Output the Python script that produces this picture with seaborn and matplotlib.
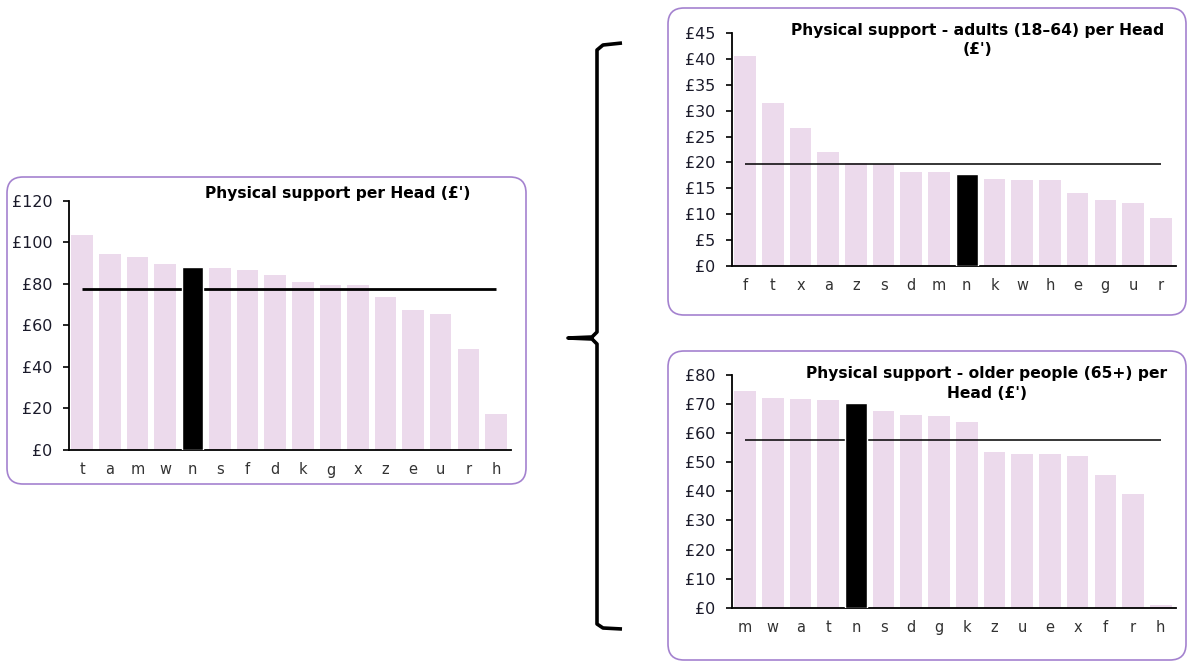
import matplotlib
matplotlib.use("Agg")

import matplotlib.pyplot as plt
import seaborn as sns
from matplotlib.patches import FancyBboxPatch

# -------------------------
# DATA
# -------------------------
all_cats = ["t", "a", "m", "w", "n", "s", "f", "d", "k", "g", "x", "z", "e", "u", "r", "h"]
all_vals = [103.3, 94.2, 92.7, 89.4, 87.9, 87.8, 86.5, 84.4, 81.0, 79.6, 79.6, 73.8, 67.2, 65.5, 48.8, 17.3]
all_avg = 77.5

adult_cats = ["f", "t", "x", "a", "z", "s", "d", "m", "n", "k", "w", "h", "e", "g", "u", "r"]
adult_vals = [40.6, 31.5, 26.7, 22.1, 19.9, 19.75, 18.1, 18.1, 17.8, 16.8, 16.6, 16.6, 14.1, 12.8, 12.2, 9.3]
adult_avg = 19.6

older_cats = ["m", "w", "a", "t", "n", "s", "d", "g", "k", "z", "u", "e", "x", "f", "r", "h"]
older_vals = [74.6, 72.0, 71.6, 71.3, 70.3, 67.6, 66.1, 65.9, 63.8, 53.6, 52.7, 52.7, 52.3, 45.6, 39.1, 1.0]
older_avg = 57.5

highlight = "n"

all_title = "Physical support per Head (£')"
adult_title = "Physical support - adults (18\u201364) per Head\n(£')"
older_title = "Physical support - older people (65+) per\nHead (£')"

PINK = "#ecdaec"
PURPLE = "#a482cf"
W, H = 1192, 663

sns.set_style("white")
plt.rcParams["font.family"] = ["DejaVu Sans"]

fig = plt.figure(figsize=(W / 100, H / 100), dpi=100)

# background layer in pixel coordinates for the rounded boxes and the brace
bg = fig.add_axes([0, 0, 1, 1])
bg.set_xlim(0, W)
bg.set_ylim(H, 0)
bg.axis("off")

for (x0, y0, x1, y1) in [(7, 177, 526, 484), (668, 8, 1186, 315), (668, 351, 1186, 660)]:
    bg.add_patch(FancyBboxPatch(
        (x0, y0), x1 - x0, y1 - y0,
        boxstyle="round,pad=0,rounding_size=16",
        facecolor="none", edgecolor=PURPLE, linewidth=1.2
    ))

# brace
bx = [622, 603, 597, 597, 592, 568, 592, 597, 597, 603, 622]
by = [43, 45, 50, 332, 337, 338, 339, 344, 624, 628, 629]
bg.plot(bx, by, color="black", linewidth=2.6, solid_capstyle="butt", solid_joinstyle="round")


def px_axes(x0, y_top, x1, y_bot):
    return fig.add_axes([x0 / W, 1 - y_bot / H, (x1 - x0) / W, (y_bot - y_top) / H])


def draw_chart(ax, cats, vals, avg, ymax, step, line_w, fs):
    colors = ["black" if c == highlight else PINK for c in cats]
    sns.barplot(x=cats, y=vals, hue=cats, palette=colors, legend=False,
                width=0.78, saturation=1, ax=ax)
    for c, p in zip(cats, ax.patches):
        if c == highlight:
            p.set_edgecolor("white")
            p.set_linewidth(1.0)
            p.set_zorder(3)
        else:
            p.set_edgecolor("none")
            p.set_zorder(1)
    ax.hlines(avg, 0, len(cats) - 1, color="black", linewidth=line_w, zorder=2)

    ax.set_xlim(-0.48, len(cats) - 0.45)
    ax.set_ylim(0, ymax)
    ax.set_yticks(range(0, ymax + 1, step))
    ax.set_yticklabels([f"£{v}" for v in range(0, ymax + 1, step)])
    ax.set_xlabel("")
    ax.set_ylabel("")
    ax.set_facecolor("none")
    for s in ["top", "right"]:
        ax.spines[s].set_visible(False)
    for s in ["left", "bottom"]:
        ax.spines[s].set_color("black")
        ax.spines[s].set_linewidth(1.3)
    ax.tick_params(axis="y", length=4, width=1.2, color="black", pad=8,
                   labelsize=fs, labelcolor="#1a1a2a", left=True)
    ax.tick_params(axis="x", length=0, pad=9, labelsize=fs - 1, labelcolor="#333333")


# -------------------------
# LEFT: all physical support
# -------------------------
ax1 = px_axes(69, 200.7, 511, 450)
draw_chart(ax1, all_cats, all_vals, all_avg, 120, 20, 2.0, 11.5)
fig.text(338 / W, 1 - 193 / H, all_title, ha="center", va="center",
         fontsize=11.2, fontweight="bold", color="black")

# -------------------------
# TOP RIGHT: adults
# -------------------------
ax2 = px_axes(731.7, 33.3, 1176, 265.7)
draw_chart(ax2, adult_cats, adult_vals, adult_avg, 45, 5, 1.1, 11.5)
fig.text(978 / W, 1 - 40 / H, adult_title, ha="center", va="center",
         fontsize=11.2, fontweight="bold", linespacing=1.35, color="black")

# -------------------------
# BOTTOM RIGHT: older people
# -------------------------
ax3 = px_axes(731.7, 375, 1176, 607.7)
draw_chart(ax3, older_cats, older_vals, older_avg, 80, 10, 1.1, 11.5)
fig.text(987 / W, 1 - 383.5 / H, older_title, ha="center", va="center",
         fontsize=11.2, fontweight="bold", linespacing=1.35, color="black")

fig.savefig("out.png", dpi=100)
